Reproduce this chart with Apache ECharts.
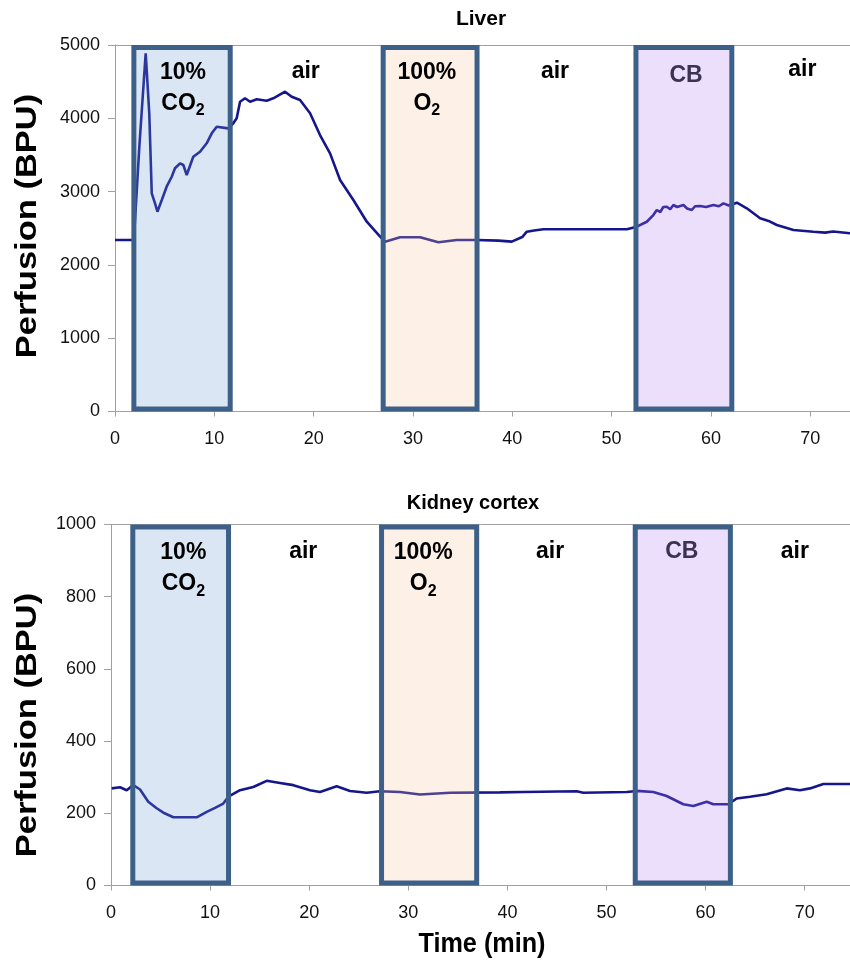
<!DOCTYPE html>
<html><head><meta charset="utf-8">
<script src="https://cdn.jsdelivr.net/npm/echarts@6/dist/echarts.min.js"></script>
<style>html,body{margin:0;padding:0;background:#fff}#c{width:850px;height:965px}</style>
</head><body><div id="c"></div>
<script>
// ---- data ----
const liverTime = [0,1.9,2.0,2.45,3.09,3.45,3.7,4.03,4.27,4.71,5.2,5.71,6.04,6.55,6.88,7.22,7.88,8.56,9.23,9.74,10.24,11.41,11.91,12.25,12.59,13.09,13.6,14.27,15.27,15.94,17.12,17.79,18.63,19.64,20.64,21.65,22.66,24.0,25.35,26.69,27.19,28.7,30.72,32.56,34.41,36.43,38.6,39.95,41.0,41.46,42.2,43.13,51.53,52.54,53.54,54.2,54.55,54.9,55.2,55.56,55.9,56.22,56.6,57.23,57.6,58.07,58.4,58.91,59.5,60.25,60.8,61.26,61.8,62.61,63.61,64.95,65.8,66.63,68.31,70.32,71.5,72.3,74.02];
const liverPerf = [2340,2340,2340,3613,4887,4068,2977,2840,2726,2885,3067,3203,3318,3386,3363,3227,3476,3544,3659,3795,3885,3863,3932,4000,4226,4273,4226,4259,4240,4273,4363,4295,4250,4068,3772,3522,3158,2885,2589,2385,2317,2377,2377,2308,2340,2340,2331,2317,2380,2453,2470,2486,2486,2521,2589,2680,2749,2720,2790,2794,2760,2817,2790,2817,2770,2749,2800,2804,2790,2817,2800,2840,2810,2849,2772,2636,2600,2544,2476,2453,2440,2455,2431];

const kidneyTime = [0.07,0.91,1.58,2.25,2.93,3.76,4.61,5.4,6.29,8.65,9.66,10.5,11.33,11.84,13.02,14.36,15.71,17.05,18.4,20.08,21.09,22.77,24.12,25.8,27.14,29.16,31.18,34.21,39.25,41.6,46.99,47.66,52.04,53.05,54.72,56.07,57.75,58.76,60.11,60.78,62.29,63.13,64.48,66.16,68.18,69.52,70.53,71.88,74.57];
const kidneyPerf = [269,272,264,278,266,232,214,200,189,189,204,215,227,246,264,273,290,284,278,264,259,275,262,257,261,259,252,257,258,259,261,257,259,262,259,248,225,220,232,225,225,241,246,253,269,264,269,281,281];

const liverBoxStart = [1.9, 27.0, 52.45];
const liverBoxEnd   = [11.6, 36.45, 62.1];
const kidneyBoxStart = [2.2, 27.3, 52.9];
const kidneyBoxEnd   = [11.86, 36.9, 62.5];

const noteText = ['{b|10%}\n{b|CO}{s|2}', '{b|air}', '{b|100%}\n{b|O}{s|2}', '{b|air}', '{c|CB}', '{b|air}'];
const liverNoteT = [6.85, 19.2, 31.4, 44.3, 57.5, 69.2];
const liverNoteV = [4413, 4632, 4413, 4632, 4577, 4659];
const kidneyNoteT = [7.3, 19.4, 31.5, 44.3, 57.6, 69.0];
const kidneyNoteV = [878, 925, 878, 925, 925, 925];

const xTicks = [0,10,20,30,40,50,60,70];
const liverYTicks = [0,1000,2000,3000,4000,5000];
const kidneyYTicks = [0,200,400,600,800,1000];

// ---- styles ----
const FONT = "'Liberation Sans', Arial, sans-serif";
const boxFill = ['rgba(111,155,211,0.25)','rgba(247,195,155,0.25)','rgba(179,127,243,0.25)'];
const boxStroke = '#3d6089';
const lineColor = '#16168c';
const axisGray = '#a0a0a0';

function zip(a,b){return a.map((v,i)=>[v,b[i]]);}
function boxes(s,e){return s.map((v,i)=>[v,e[i],i]);}
function notes(t,v){return t.map((x,i)=>[x,v[i],noteText[i]]);}

function renderBox(params, api){
  const cs = params.coordSys;
  const s = api.coord([api.value(0), 0])[0];
  const e = api.coord([api.value(1), 0])[0];
  const half = 2.5;
  return {type:'rect', shape:{x:s, y:cs.y+half, width:e-s, height:cs.height-2*half},
    style:{fill:boxFill[api.value(2)], stroke:boxStroke, lineWidth:5}};
}

const rich = {
  b:{fontFamily:FONT, fontSize:23, fontWeight:'bold', color:'#000', lineHeight:31},
  s:{fontFamily:FONT, fontSize:16, fontWeight:'bold', color:'#000', lineHeight:19, verticalAlign:'bottom'},
  c:{fontFamily:FONT, fontSize:23, fontWeight:'bold', color:'#3b3350', lineHeight:31}
};

function xAxisCfg(gi, max){
  return {type:'value', gridIndex:gi, min:0, max:max, interval:10,
    axisLine:{show:true, lineStyle:{color:axisGray, width:1}},
    axisTick:{show:true, length:5, customValues:xTicks, lineStyle:{color:axisGray}},
    axisLabel:{fontFamily:FONT, fontSize:18, color:'#111', margin:19, customValues:xTicks,
      formatter:v=> String(v)},
    splitLine:{show:false}};
}
function topAxisCfg(gi, max){
  return {type:'value', gridIndex:gi, position:'top', min:0, max:max,
    axisLine:{show:true, lineStyle:{color:axisGray}}, axisTick:{show:false},
    axisLabel:{show:false}, splitLine:{show:false}};
}
function yAxisCfg(gi, ticks){
  return {type:'value', gridIndex:gi, min:0, max:ticks[ticks.length-1], interval:ticks[1]-ticks[0],
    axisLine:{show:true, lineStyle:{color:axisGray}},
    axisTick:{show:true, length:7, lineStyle:{color:axisGray}},
    axisLabel:{fontFamily:FONT, fontSize:18, color:'#111', margin:15, formatter:v=>String(v)},
    splitLine:{show:false}};
}

const labelCfg = {show:true, position:'inside', formatter:p=>p.data[2], rich:rich, align:'center', verticalAlign:'middle'};

const chart = echarts.init(document.getElementById('c'), null, {renderer:'canvas'});
chart.setOption({
  animation:false,
  backgroundColor:'#fff',
  grid:[
    {left:115, right:0, top:45, height:366.5},
    {left:111, right:0, top:524.5, height:361}
  ],
  xAxis:[xAxisCfg(0,74.0), xAxisCfg(1,74.57), topAxisCfg(0,74.0), topAxisCfg(1,74.57)],
  yAxis:[yAxisCfg(0, liverYTicks), yAxisCfg(1, kidneyYTicks)],
  series:[
    {type:'line', xAxisIndex:0, yAxisIndex:0, data:zip(liverTime,liverPerf), showSymbol:false, symbol:'none',
      lineStyle:{color:lineColor, width:2.6}, z:2},
    {type:'custom', xAxisIndex:0, yAxisIndex:0, data:boxes(liverBoxStart,liverBoxEnd), renderItem:renderBox, z:3, silent:true},
    {type:'scatter', xAxisIndex:0, yAxisIndex:0, data:notes(liverNoteT,liverNoteV), symbolSize:0, z:4,
      itemStyle:{opacity:1}, label:labelCfg},
    {type:'line', xAxisIndex:1, yAxisIndex:1, data:zip(kidneyTime,kidneyPerf), showSymbol:false, symbol:'none',
      lineStyle:{color:lineColor, width:2.6}, z:2},
    {type:'custom', xAxisIndex:1, yAxisIndex:1, data:boxes(kidneyBoxStart,kidneyBoxEnd), renderItem:renderBox, z:3, silent:true},
    {type:'scatter', xAxisIndex:1, yAxisIndex:1, data:notes(kidneyNoteT,kidneyNoteV), symbolSize:0, z:4,
      itemStyle:{opacity:1}, label:labelCfg}
  ],
  graphic:[
    {type:'text', x:481, y:19, style:{text:'Liver', font:"bold 21px "+FONT, fill:'#000', textAlign:'center', textVerticalAlign:'middle'}},
    {type:'text', x:473, y:503, style:{text:'Kidney cortex', font:"bold 20px "+FONT, fill:'#000', textAlign:'center', textVerticalAlign:'middle'}},
    {type:'text', x:482, y:944, scaleX:0.9, style:{text:'Time (min)', font:"bold 28px "+FONT, fill:'#000', textAlign:'center', textVerticalAlign:'middle'}},
    {type:'text', x:28, y:226, rotation:Math.PI/2, scaleX:1.15, style:{text:'Perfusion (BPU)', font:"bold 30px "+FONT, fill:'#000', textAlign:'center', textVerticalAlign:'middle'}},
    {type:'text', x:28, y:725, rotation:Math.PI/2, scaleX:1.15, style:{text:'Perfusion (BPU)', font:"bold 30px "+FONT, fill:'#000', textAlign:'center', textVerticalAlign:'middle'}}
  ]
});
</script></body></html>
